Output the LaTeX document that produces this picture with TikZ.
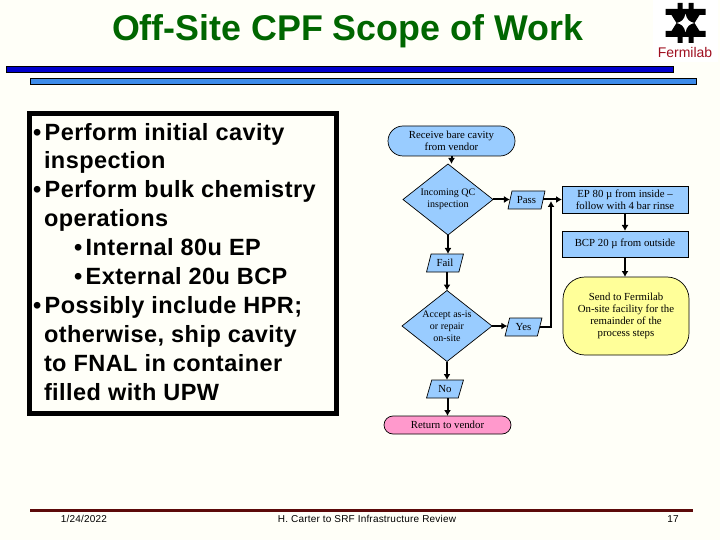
\documentclass[tikz,border=0pt]{standalone}
\usepackage{fontspec}
\setmainfont{Liberation Serif}
\newfontfamily\arialf{Liberation Sans}
\newfontfamily\arialw[LetterSpace=1.9]{Liberation Sans}
\newfontfamily\arialc[LetterSpace=2]{Liberation Sans}
\usetikzlibrary{shapes.geometric,shapes.misc,arrows.meta}
\definecolor{pagebg}{HTML}{FFFFF8}
\definecolor{boxblue}{HTML}{99CCFF}
\definecolor{boxyellow}{HTML}{FFFF99}
\definecolor{boxpink}{HTML}{FF99CC}
\definecolor{titlegreen}{HTML}{006600}
\definecolor{barblue}{HTML}{0000CC}
\definecolor{barlight}{HTML}{3D8BEA}
\definecolor{footred}{HTML}{5C0A0A}
\definecolor{logored}{HTML}{A01020}
\tikzset{
  every node/.style={inner sep=0pt,outer sep=0pt,align=center},
  flowtext/.style={font=\fontsize{10.8}{12}\selectfont},
  termin/.style={flowtext,draw=black,line width=.7pt,rounded rectangle,minimum width=127pt},
  decision/.style={font=\fontsize{10}{12}\selectfont,draw=black,line width=.7pt,fill=boxblue,diamond,shape aspect=1.27,minimum width=90pt,minimum height=71pt},
  lbl/.style={flowtext,draw=black,line width=.7pt,fill=boxblue,trapezium,trapezium left angle=70,trapezium right angle=110,trapezium stretches=true,minimum width=37pt,minimum height=18pt},
  procbox/.style={flowtext,draw=black,line width=.7pt,fill=boxblue,minimum width=126pt},
  flow/.style={line width=2pt,-{Latex[length=6pt,width=7pt]}},
  footer/.style={font=\arialc\fontsize{10}{11}\selectfont,text height=7.5pt,text depth=2pt},
  bar/.style={draw=black,line width=.6pt}
}
\begin{document}
\begin{tikzpicture}[x=1pt,y=-1pt]
\useasboundingbox (0,0) rectangle (720,540);
\fill[pagebg] (0,0) rectangle (720,540);
% logo
\fill[white] (653,0) rectangle (718,62);
\begin{scope}[shift={(685.5,23)}]
  \fill[black] (-8,-20) rectangle (-3,-12) (3,-20) rectangle (8,-12);
  \fill[black] (-8,12) rectangle (-3,20) (3,12) rectangle (8,20);
  \fill[black] (-20,-14) rectangle (20,-8) (-20,8) rectangle (20,14);
  \fill[black] (-14,-8) -- (14,-8) -- (9,0) -- (14,8) -- (-14,8) -- (-9,0) -- cycle;
  \fill[white] (0,-9) .. controls (1.5,-3) and (4,-1) .. (9,0) .. controls (4,1) and (1.5,3) .. (0,9) .. controls (-1.5,3) and (-4,1) .. (-9,0) .. controls (-4,-1) and (-1.5,-3) .. (0,-9) -- cycle;
\end{scope}
\node[font=\arialf\fontsize{14}{15}\selectfont,text=logored] (logotext) at (685,52.5) {Fermilab};
% title and bars
\node[font=\arialf\bfseries\fontsize{35.8}{38}\selectfont,text=titlegreen] (title) at (347.5,31) {Off-Site CPF Scope of Work};
\filldraw[bar,fill=barblue] (6.5,66.5) rectangle (673,72.5);
\filldraw[bar,fill=barlight] (30.5,78.5) rectangle (696,84.5);
% left text box
\node[draw=black,line width=5pt,fill=pagebg,minimum width=307pt,minimum height=300pt] (frame) at (183,263.5) {};
\node[anchor=north west,align=left,font=\arialw\bfseries\fontsize{23.5}{28.9}\selectfont] (list) at (33,123) {%
•\hspace{3.5pt}Perform initial cavity\\
\hspace*{11pt}inspection\\
•\hspace{3.5pt}Perform bulk chemistry\\
\hspace*{11pt}operations\\
\hspace*{41pt}•\hspace{3.5pt}Internal 80u EP\\
\hspace*{41pt}•\hspace{3.5pt}External 20u BCP\\
•\hspace{3.5pt}Possibly include HPR;\\
\hspace*{11pt}otherwise, ship cavity\\
\hspace*{11pt}to FNAL in container\\
\hspace*{11pt}filled with UPW};
% flow
\node[termin,fill=boxblue,minimum height=30pt] (recv) at (451.5,141) {Receive bare cavity\\from vendor};
\node[decision] (qc) at (448,199.5) {Incoming QC\\inspection};
\node[lbl] (pass) at (526.5,200) {Pass};
\node[procbox,minimum height=27pt] (ep) at (625,199.5) {EP 80 µ from inside –\\follow with 4 bar rinse};
\node[procbox,minimum height=26pt] (bcp) at (625,244) {BCP 20 µ from outside};
\node[flowtext,draw=black,line width=.7pt,fill=boxyellow,rounded corners=22pt,minimum width=126pt,minimum height=78pt] (send) at (626,316) {Send to Fermilab\\On-site facility for the\\remainder of the\\process steps};
\node[lbl] (fail) at (445,263) {Fail};
\node[decision] (acc) at (447,326) {Accept as-is\\or repair\\on-site};
\node[lbl] (yes) at (523.5,327) {Yes};
\node[lbl] (no) at (445,389) {No};
\node[termin,fill=boxpink,minimum height=18pt] (ret) at (447.5,425) {Return to vendor};
\draw[flow] (recv) -- (recv.south |- qc.north);
\draw[flow] (qc.south) -- (qc.south |- fail.north);
\draw[flow] (qc.east) -- (pass.west |- qc.east);
\draw[flow] (pass.east |- ep.west) -- (ep.west);
\draw[flow] (ep.south) -- (bcp.north);
\draw[flow] (bcp.south) -- (bcp.south |- send.north);
\draw[flow] (fail.south -| acc.north) -- (acc.north);
\draw[flow] (acc.east) -- (yes.west |- acc.east);
\coordinate (jn) at (551,201);
\draw[flow] (yes.east) -- (jn |- yes.east) -- (jn);
\draw[flow] (acc.south) -- (acc.south |- no.north);
\draw[flow] (no.south -| ret.north) -- (ret.north);
% footer
\draw[footred,line width=3pt] (30,510.5) -- (693,510.5);
\node[footer] (date) at (84,519.5) {1/24/2022};
\node[footer] (pres) at (367,519.5) {H. Carter to SRF Infrastructure Review};
\node[footer] (pg) at (673,519.5) {17};
\end{tikzpicture}
\end{document}
